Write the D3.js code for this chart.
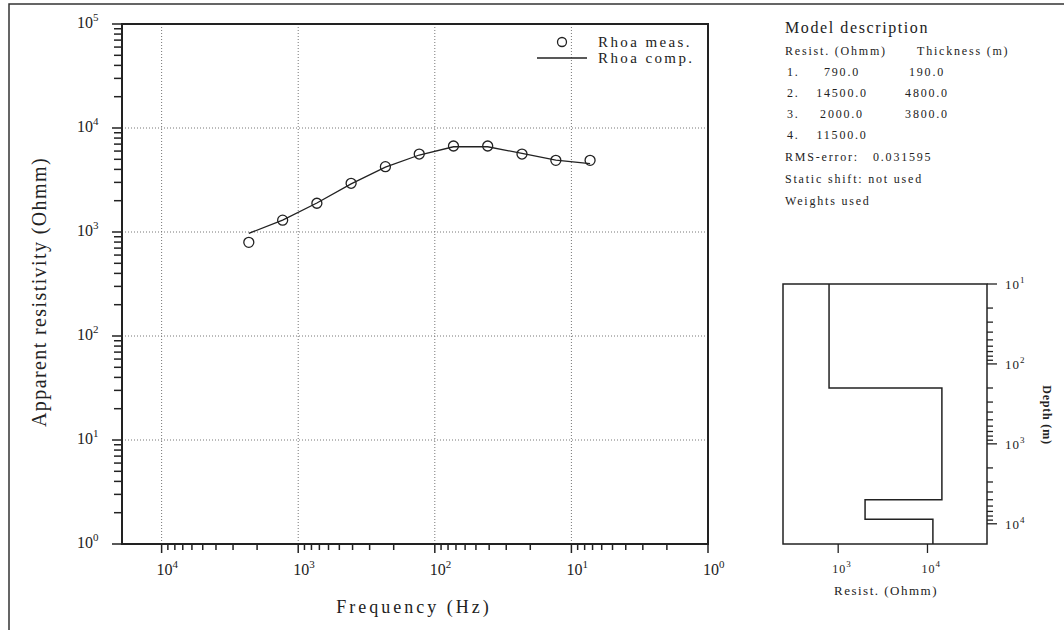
<!DOCTYPE html>
<html>
<head>
<meta charset="UTF-8" />
<title>MT sounding</title>
<script src="https://cdn.jsdelivr.net/npm/d3@7"></script>
<style>
  body { margin: 0; background: #fff; }
  text { font-family: "Liberation Serif", "DejaVu Serif", serif; fill: #222; }
</style>
</head>
<body>
<script>
// measured / computed apparent resistivity
const freq = [2300, 1300, 730, 410, 230, 130, 73, 41, 23, 13, 7.3];
const rhoMeas = [796, 1300, 1890, 2940, 4250, 5620, 6710, 6710, 5620, 4890, 4890];
const rhoComp = [970, 1300, 1900, 2900, 4200, 5500, 6600, 6600, 5700, 4900, 4550];

// layered model
const layerResist = [790, 14500, 2000, 11500];
const layerThick = [190, 4800, 3800];
const rmsError = "0.031595";

const freqTicks = [1e4, 1e3, 1e2, 1e1, 1e0];
const rhoTicks = [1e0, 1e1, 1e2, 1e3, 1e4, 1e5];
const depthTicks = [1e1, 1e2, 1e3, 1e4];
const resTicks = [1e3, 1e4];

const W = 1064, H = 630;
const svg = d3.select("body").append("svg").attr("width", W).attr("height", H);

// outer frame
svg.append("rect").attr("x", 9).attr("y", 4).attr("width", W + 10).attr("height", H + 10)
  .attr("fill", "none").attr("stroke", "#333").attr("stroke-width", 1.5);

// ---- main plot
let x = d3.scaleLog().domain([19500, 1]).range([122, 708]);
let y = d3.scaleLog().domain([1, 1e5]).range([544, 24]);

function pow10(sel, exp, sup, dy) {
  sel.text("10");
  sel.append("tspan").attr("dy", -dy).attr("font-size", sup).text(exp);
}

let g = svg.append("g");

// grid
g.selectAll(".gx").data(freqTicks.slice(0, 4)).enter().append("line")
  .attr("x1", d => x(d)).attr("x2", d => x(d)).attr("y1", 24).attr("y2", 544)
  .attr("stroke", "#777").attr("stroke-dasharray", "1,2");
g.selectAll(".gy").data(rhoTicks.slice(1, 5)).enter().append("line")
  .attr("y1", d => y(d)).attr("y2", d => y(d)).attr("x1", 122).attr("x2", 708)
  .attr("stroke", "#777").attr("stroke-dasharray", "1,2");

// minor + major ticks
let xMinor = x.ticks().filter(d => d <= 19500);
g.selectAll(".tx").data(xMinor).enter().append("line")
  .attr("x1", d => x(d)).attr("x2", d => x(d)).attr("y1", 544)
  .attr("y2", d => freqTicks.includes(d) ? 553 : 550)
  .attr("stroke", "#222").attr("stroke-width", 1.5);
let yMinor = y.ticks();
g.selectAll(".ty").data(yMinor).enter().append("line")
  .attr("y1", d => y(d)).attr("y2", d => y(d)).attr("x1", 122)
  .attr("x2", d => rhoTicks.includes(d) ? 112 : 114)
  .attr("stroke", "#222").attr("stroke-width", 1.5);

// tick labels
g.selectAll(".lx").data(freqTicks).enter().append("text")
  .attr("x", d => x(d) - 5).attr("y", 575).attr("font-size", 16)
  .each(function (d) { pow10(d3.select(this), Math.round(Math.log10(d)), 11, 7); });
g.selectAll(".ly").data(rhoTicks).enter().append("text")
  .attr("x", 77).attr("y", d => y(d) + 4).attr("font-size", 16)
  .each(function (d) { pow10(d3.select(this), Math.round(Math.log10(d)), 11, 7); });

// box
g.append("rect").attr("x", 122).attr("y", 24).attr("width", 586).attr("height", 520)
  .attr("fill", "none").attr("stroke", "#222").attr("stroke-width", 2);

// axis titles
svg.append("text").attr("x", 414).attr("y", 613).attr("text-anchor", "middle")
  .attr("font-size", 18).attr("letter-spacing", 3).text("Frequency (Hz)");
svg.append("text").attr("transform", "translate(46,292) rotate(-90)").attr("text-anchor", "middle")
  .attr("font-size", 20).attr("letter-spacing", 1.4).text("Apparent resistivity (Ohmm)");

// computed curve
let line = d3.line().x(d => x(d[0])).y(d => y(d[1]));
g.append("path").datum(d3.zip(freq, rhoComp)).attr("d", line)
  .attr("fill", "none").attr("stroke", "#222").attr("stroke-width", 1.3);

// measured points
g.selectAll(".pt").data(d3.zip(freq, rhoMeas)).enter().append("circle")
  .attr("cx", d => x(d[0])).attr("cy", d => y(d[1])).attr("r", 5)
  .attr("fill", "none").attr("stroke", "#222").attr("stroke-width", 1.3);

// legend
g.append("circle").attr("cx", 562).attr("cy", 42).attr("r", 4.5)
  .attr("fill", "none").attr("stroke", "#222").attr("stroke-width", 1.3);
g.append("line").attr("x1", 537).attr("x2", 587).attr("y1", 58).attr("y2", 58)
  .attr("stroke", "#222").attr("stroke-width", 1.3);
g.append("text").attr("x", 598).attr("y", 47).attr("font-size", 15).attr("letter-spacing", 2.4).text("Rhoa meas.");
g.append("text").attr("x", 598).attr("y", 63).attr("font-size", 15).attr("letter-spacing", 2.4).text("Rhoa comp.");

// ---- model description text
let t = svg.append("g").attr("font-size", 12).attr("letter-spacing", 1.8);
t.append("text").attr("x", 785).attr("y", 33).attr("font-size", 16).attr("letter-spacing", 1.6).text("Model description");
t.append("text").attr("x", 785).attr("y", 55).text("Resist. (Ohmm)");
t.append("text").attr("x", 917).attr("y", 55).text("Thickness (m)");
let rowY = [76, 97, 118, 139];
layerResist.forEach((r, i) => {
  t.append("text").attr("x", 787).attr("y", rowY[i]).text((i + 1) + ".");
  t.append("text").attr("x", 842).attr("y", rowY[i]).attr("text-anchor", "middle").text(r.toFixed(1));
  if (i < layerThick.length)
    t.append("text").attr("x", 927).attr("y", rowY[i]).attr("text-anchor", "middle").text(layerThick[i].toFixed(1));
});
t.append("text").attr("x", 785).attr("y", 161).text("RMS-error:");
t.append("text").attr("x", 873).attr("y", 161).text(rmsError);
t.append("text").attr("x", 785).attr("y", 183).text("Static shift: not used");
t.append("text").attr("x", 785).attr("y", 205).text("Weights used");

// ---- model plot
let mx = d3.scaleLog().domain([241, 46400]).range([783, 987]);
let my = d3.scaleLog().domain([10, 17900]).range([284, 544]);
let m = svg.append("g");

let depthMinor = my.ticks().filter(d => d <= 17900);
m.selectAll(".td").data(depthMinor).enter().append("line")
  .attr("y1", d => my(d)).attr("y2", d => my(d)).attr("x1", 987)
  .attr("x2", d => depthTicks.includes(d) ? 997 : 993)
  .attr("stroke", "#222").attr("stroke-width", 1.3);
m.selectAll(".ld").data(depthTicks).enter().append("text")
  .attr("x", 1005).attr("y", d => my(d) + 5).attr("font-size", 13).attr("letter-spacing", 1)
  .each(function (d) { pow10(d3.select(this), Math.round(Math.log10(d)), 9, 6); });
m.selectAll(".tr").data(resTicks).enter().append("line")
  .attr("x1", d => mx(d)).attr("x2", d => mx(d)).attr("y1", 544).attr("y2", 553)
  .attr("stroke", "#222").attr("stroke-width", 1.3);
m.selectAll(".lr").data(resTicks).enter().append("text")
  .attr("x", d => mx(d) - 6).attr("y", 573).attr("font-size", 12).attr("letter-spacing", 1)
  .each(function (d) { pow10(d3.select(this), Math.round(Math.log10(d)), 9, 6); });

m.append("rect").attr("x", 783).attr("y", 284).attr("width", 204).attr("height", 260)
  .attr("fill", "none").attr("stroke", "#222").attr("stroke-width", 1.5);

// step curve
let tops = [10];
layerThick.forEach((h, i) => tops.push(tops[i] + h));
let steps = [];
layerResist.forEach((r, i) => {
  steps.push([r, tops[i]]);
  steps.push([r, i + 1 < tops.length ? tops[i + 1] : 17900]);
});
m.append("path").datum(steps)
  .attr("d", d3.line().x(d => mx(d[0])).y(d => my(d[1])))
  .attr("fill", "none").attr("stroke", "#222").attr("stroke-width", 1.5);

m.append("text").attr("x", 886).attr("y", 595).attr("text-anchor", "middle")
  .attr("font-size", 13).attr("letter-spacing", 1.5).text("Resist. (Ohmm)");
m.append("text").attr("transform", "translate(1043,415) rotate(90)").attr("text-anchor", "middle")
  .attr("font-size", 12).attr("font-weight", "bold").attr("letter-spacing", 0.8).text("Depth (m)");
</script>
</body>
</html>
